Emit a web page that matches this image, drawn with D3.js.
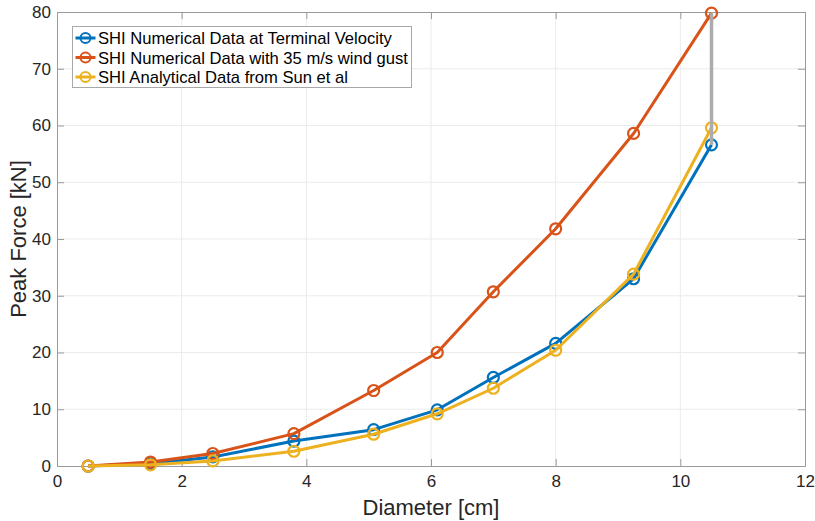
<!DOCTYPE html>
<html>
<head>
<meta charset="utf-8">
<script src="https://d3js.org/d3.v7.min.js"></script>
<style>
  html, body { margin: 0; padding: 0; background: #fff; }
  svg { display: block; font-family: "Liberation Sans", Arial, Helvetica, sans-serif; }
</style>
</head>
<body>
<svg id="chart" width="815" height="521"></svg>
<script>
// Hail impact: peak force versus hailstone diameter
const diameters = [0.5, 1.5, 2.5, 3.8, 5.08, 6.1, 7.0, 8.0, 9.25, 10.5];
const terminalVelocity = [0, 0.4, 1.6, 4.4, 6.4, 9.9, 15.6, 21.6, 33.0, 56.6];
const windGust = [0, 0.7, 2.2, 5.7, 13.3, 20.0, 30.7, 41.8, 58.6, 79.8];
const analyticalSun = [0, 0.2, 0.9, 2.6, 5.6, 9.2, 13.7, 20.4, 33.8, 59.6];
const gapLine = [[10.5, 79.8], [10.5, 56.6]];

const seriesNames = [
  "SHI Numerical Data at Terminal Velocity",
  "SHI Numerical Data with 35 m/s wind gust",
  "SHI Analytical Data from Sun et al"
];
const seriesColors = ["#0072BD", "#D95319", "#EDB120"];
const xTicks = [0, 2, 4, 6, 8, 10, 12];
const yTicks = [0, 10, 20, 30, 40, 50, 60, 70, 80];

const svg = d3.select("#chart");
const margin = { left: 57, right: 10, top: 12, bottom: 55 };
const W = 815, H = 521;

const x = d3.scaleLinear().domain([0, 12]).range([margin.left, W - margin.right]);
const y = d3.scaleLinear().domain([0, 80]).range([H - margin.bottom, margin.top]);

const x0 = x(0), x1 = x(12), y0 = y(0), y1 = y(80);

// grid
const grid = svg.append("g");
grid.selectAll("line.gx").data(xTicks.slice(1, -1)).join("line")
  .attr("x1", d => x(d)).attr("x2", d => x(d)).attr("y1", y0).attr("y2", y1)
  .attr("stroke", "#ebebeb").attr("stroke-width", 1);
grid.selectAll("line.gy").data(yTicks.slice(1, -1)).join("line")
  .attr("y1", d => y(d)).attr("y2", d => y(d)).attr("x1", x0).attr("x2", x1)
  .attr("stroke", "#ebebeb").attr("stroke-width", 1);

// axes (ticks pointing inward, box on all sides)
const axisColor = "#9a9a9a";
const tickLen = 7;
function styleAxis(g) {
  g.select(".domain").attr("stroke", axisColor);
  g.selectAll(".tick line").attr("stroke", axisColor);
  g.selectAll(".tick text").attr("fill", "#262626").attr("font-size", 17)
    .attr("font-family", "Liberation Sans, Arial, sans-serif");
}
const xAxis = svg.append("g").attr("transform", `translate(0,${y0})`)
  .call(d3.axisBottom(x).tickValues(xTicks).tickFormat(d3.format("d"))
    .tickSizeInner(-tickLen).tickSizeOuter(0).tickPadding(9));
styleAxis(xAxis);
const xAxisTop = svg.append("g").attr("transform", `translate(0,${y1})`)
  .call(d3.axisTop(x).tickValues(xTicks).tickFormat("")
    .tickSizeInner(-tickLen).tickSizeOuter(0));
styleAxis(xAxisTop);
const yAxis = svg.append("g").attr("transform", `translate(${x0},0)`)
  .call(d3.axisLeft(y).tickValues(yTicks).tickFormat(d3.format("d"))
    .tickSizeInner(-tickLen).tickSizeOuter(0).tickPadding(6));
styleAxis(yAxis);
const yAxisRight = svg.append("g").attr("transform", `translate(${x1},0)`)
  .call(d3.axisRight(y).tickValues(yTicks).tickFormat("")
    .tickSizeInner(-tickLen).tickSizeOuter(0));
styleAxis(yAxisRight);

// axis titles
svg.append("text").attr("x", (x0 + x1) / 2).attr("y", 515)
  .attr("text-anchor", "middle").attr("font-size", 22).attr("fill", "#262626")
  .text("Diameter [cm]");
svg.append("text").attr("transform", `translate(26,${(y0 + y1) / 2}) rotate(-90)`)
  .attr("text-anchor", "middle").attr("font-size", 22).attr("fill", "#262626")
  .text("Peak Force [kN]");

// data series
const allSeries = [terminalVelocity, windGust, analyticalSun];
const line = d3.line().x(d => x(d[0])).y(d => y(d[1]));
const plot = svg.append("g");
allSeries.forEach((vals, i) => {
  const pts = diameters.map((d, k) => [d, vals[k]]);
  plot.append("path").datum(pts).attr("d", line)
    .attr("fill", "none").attr("stroke", seriesColors[i]).attr("stroke-width", 3)
    .attr("stroke-linejoin", "round");
  plot.selectAll(null).data(pts).join("circle")
    .attr("cx", d => x(d[0])).attr("cy", d => y(d[1])).attr("r", 5.5)
    .attr("fill", "none").attr("stroke", seriesColors[i]).attr("stroke-width", 2.2);
});
plot.append("path").datum(gapLine).attr("d", line)
  .attr("fill", "none").attr("stroke", "#acacac").attr("stroke-width", 3.5);

// legend
const lg = svg.append("g").attr("transform", "translate(72.5,26.5)");
lg.append("rect").attr("width", 339).attr("height", 61)
  .attr("fill", "#fff").attr("stroke", "#a8a8a8").attr("stroke-width", 1);
seriesNames.forEach((name, i) => {
  const ly = 11.5 + i * 19.5;
  lg.append("line").attr("x1", 3).attr("x2", 23).attr("y1", ly).attr("y2", ly)
    .attr("stroke", seriesColors[i]).attr("stroke-width", 3);
  lg.append("circle").attr("cx", 13).attr("cy", ly).attr("r", 5)
    .attr("fill", "none").attr("stroke", seriesColors[i]).attr("stroke-width", 2);
  lg.append("text").attr("x", 25.5).attr("y", ly + 6).attr("font-size", 16.6)
    .attr("fill", "#000").text(name);
});
</script>
</body>
</html>
